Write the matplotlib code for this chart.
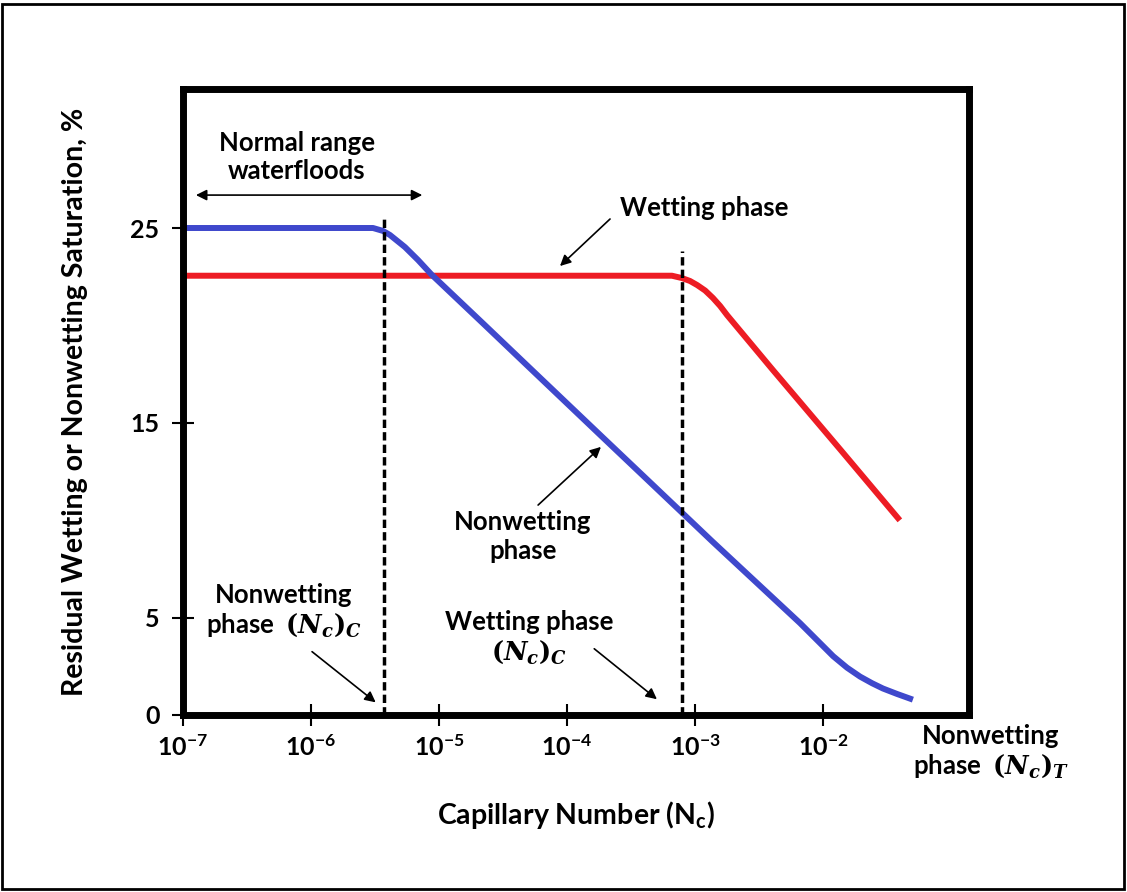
import numpy as np
import matplotlib
matplotlib.use('Agg')
import matplotlib.pyplot as plt
from matplotlib.patches import Rectangle

# fonts
plt.rcParams['font.family'] = ['Lato', 'DejaVu Sans']
plt.rcParams['font.weight'] = 'bold'
plt.rcParams['mathtext.fontset'] = 'custom'
plt.rcParams['mathtext.rm'] = 'DejaVu Serif'
plt.rcParams['mathtext.it'] = 'DejaVu Serif:italic'
plt.rcParams['mathtext.bf'] = 'Lato:bold'

# nonwetting phase (blue)
nw_nc = [1e-7, 3.05e-6, 3.65e-6, 4.14e-6, 4.95e-6, 5.42e-6, 6.85e-6, 8.8e-6,
         2.21e-5, 5.42e-5, 1.91e-4, 4.45e-4, 7.91e-4, 1.36e-3, 6.61e-3,
         8.97e-3, 1.20e-2, 1.54e-2, 1.95e-2, 2.42e-2, 2.94e-2, 3.79e-2, 4.79e-2]
nw_sat = [25.0, 25.0, 24.85, 24.64, 24.23, 24.02, 23.36, 22.59,
          20.10, 17.66, 14.24, 11.95, 10.39, 8.92, 4.72,
          3.85, 3.02, 2.43, 1.97, 1.63, 1.36, 1.08, 0.84]

# wetting phase (red)
w_nc = [1e-7, 3.72e-4, 6.61e-4, 7.91e-4, 9.14e-4, 1.04e-3, 1.20e-3, 1.38e-3,
        1.57e-3, 1.78e-3, 4.06e-3, 1.36e-2, 3.85e-2]
w_sat = [22.55, 22.55, 22.55, 22.43, 22.28, 22.07, 21.79, 21.41,
         21.0, 20.53, 17.71, 13.64, 10.11]

# critical capillary numbers (dashed lines)
crit_nc = [3.72e-6, 7.91e-4]
crit_top = [25.5, 23.8]

xticks = [1e-7, 1e-6, 1e-5, 1e-4, 1e-3, 1e-2]
xticklabels = [r'$\mathbf{10^{-7}}$', r'$\mathbf{10^{-6}}$', r'$\mathbf{10^{-5}}$',
               r'$\mathbf{10^{-4}}$', r'$\mathbf{10^{-3}}$', r'$\mathbf{10^{-2}}$']
yticks = [0, 5, 15, 25]

fig = plt.figure(figsize=(11.27, 8.92), dpi=100)
ax = fig.add_axes([183 / 1127, 1 - 715 / 892, 786 / 1127, 626 / 892])

ax.plot(w_nc, w_sat, color='#ed1c24', lw=4.3, solid_joinstyle='round')
ax.plot(nw_nc, nw_sat, color='#3f48cc', lw=4.3, solid_joinstyle='round')
for xc, yt in zip(crit_nc, crit_top):
    ax.plot([xc, xc], [0, yt], color='black', lw=2.5, dashes=(2.4, 1.2))

ax.set_xscale('log')
ax.set_xlim(1e-7, 10 ** (-7 + 786 / 128))
ax.set_ylim(0, 626 / 19.48)
ax.set_xticks(xticks)
ax.set_xticklabels(xticklabels)
ax.minorticks_off()
ax.set_yticks(yticks)
ax.tick_params(direction='inout', length=16, width=1.5, labelsize=18)
ax.tick_params(axis='x', pad=6)
ax.tick_params(axis='y', pad=9)
for s in ax.spines.values():
    s.set_linewidth(5)

ax.set_ylabel('Residual Wetting or Nonwetting Saturation, %', fontsize=20.5,
              fontweight='bold')
ax.yaxis.set_label_coords(-0.121, 0.5)
ax.set_xlabel(r'Capillary Number (N$_{\mathbf{c}}$)', fontsize=20.5, fontweight='bold')
ax.xaxis.set_label_coords(0.5, -0.134)

fs = 18.5
arw = dict(arrowstyle='-|>', color='black', lw=1.2, mutation_scale=16)

ax.text(7.78e-7, 28.64, 'Normal range\nwaterfloods', ha='center', va='center',
        fontsize=fs, linespacing=1.2)
ax.annotate('', xy=(1.2e-7, 26.69), xytext=(7.78e-6, 26.69),
            arrowprops=dict(arrowstyle='<|-|>', color='black', lw=1.2, mutation_scale=16))

ax.text(2.6e-4, 26.03, 'Wetting phase', ha='left', va='center', fontsize=fs)
ax.annotate('', xy=(8.5e-5, 22.95), xytext=(2.25e-4, 25.56), arrowprops=arw)

ax.text(4.53e-5, 9.14, 'Nonwetting\nphase', ha='center', va='center',
        fontsize=fs, linespacing=1.25)
ax.annotate('', xy=(1.91e-4, 13.86), xytext=(5.73e-5, 10.68), arrowprops=arw)

ax.text(6.15e-7, 5.34, 'Nonwetting\nphase  $(N_c)_C$', ha='center', va='center',
        fontsize=fs, linespacing=1.2)
ax.annotate('', xy=(3.33e-6, 0.56), xytext=(9.8e-7, 3.34), arrowprops=arw)

ax.text(5.05e-5, 3.95, 'Wetting phase\n$(N_c)_C$', ha='center', va='center',
        fontsize=fs, linespacing=1.2)
ax.annotate('', xy=(5.24e-4, 0.72), xytext=(1.57e-4, 3.49), arrowprops=arw)

fig.text(991 / 1127, 1 - 752 / 892, 'Nonwetting\nphase  $(N_c)_T$', ha='center',
         va='center', fontsize=fs, linespacing=1.2)

fig.patches.append(Rectangle((0.002, 0.003), 0.995, 0.993, transform=fig.transFigure,
                             fill=False, lw=2, ec='black'))

fig.savefig('out.png', dpi=100)
